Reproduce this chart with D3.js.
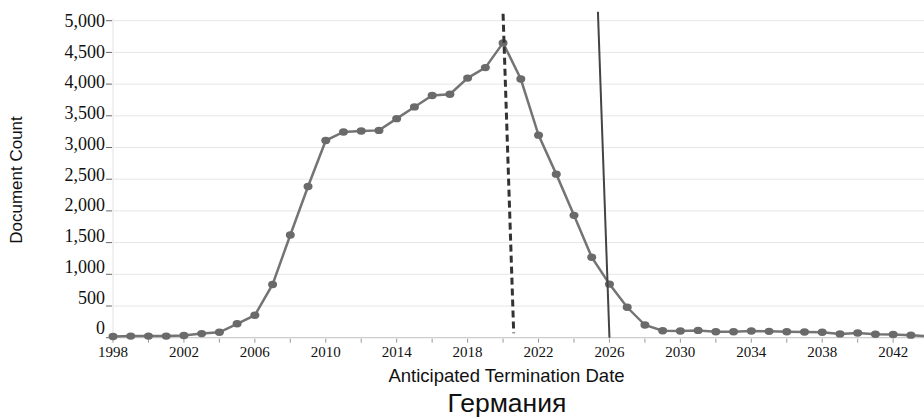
<!DOCTYPE html>
<html><head><meta charset="utf-8">
<script src="https://cdn.jsdelivr.net/npm/d3@7"></script>
<style>body{margin:0;background:#fff;}svg{display:block;}</style>
</head><body>
<svg id="c" width="924" height="419"></svg>
<script>
const years = [1998,1999,2000,2001,2002,2003,2004,2005,2006,2007,2008,2009,2010,2011,2012,2013,2014,2015,2016,2017,2018,2019,2020,2021,2022,2023,2024,2025,2026,2027,2028,2029,2030,2031,2032,2033,2034,2035,2036,2037,2038,2039,2040,2041,2042,2043,2044];
const counts = [20,25,25,25,35,65,85,220,355,840,1620,2385,3110,3245,3260,3270,3455,3640,3820,3840,4095,4260,4650,4080,3195,2580,1930,1270,845,480,200,110,105,115,95,95,105,100,95,90,85,60,75,55,50,40,20];
const yTicks = [0,500,1000,1500,2000,2500,3000,3500,4000,4500,5000];
const xTicks = [1998,2000,2002,2004,2006,2008,2010,2012,2014,2016,2018,2020,2022,2024,2026,2028,2030,2032,2034,2036,2038,2040,2042];
const xLabels = [1998,2002,2006,2010,2014,2018,2022,2026,2030,2034,2038,2042];
const dashedLine = [[2020.0,5110],[2020.6,70]];
const solidLine = [[2025.35,5140],[2026.0,0]];
const title = "Германия";
const xTitle = "Anticipated Termination Date";
const yTitle = "Document Count";

const svg = d3.select("#c");
const x = d3.scaleLinear().domain([1998,2044]).range([113,928.6]);
const y = d3.scaleLinear().domain([0,5000]).range([337.7,20.7]);
const yLab = d3.scaleLinear().domain([0,5000]).range([328,20.7]);

// grid
svg.append("g").selectAll("line").data(yTicks).join("line")
  .attr("x1",113).attr("x2",924).attr("y1",d=>y(d)).attr("y2",d=>y(d))
  .attr("stroke","#e6e6e6").attr("stroke-width",1);
svg.append("line").attr("x1",113).attr("x2",113).attr("y1",y(5000)-2).attr("y2",y(0))
  .attr("stroke","#e2e2e2");

// y ticks
svg.append("g").selectAll("line").data(yTicks).join("line")
  .attr("x1",106).attr("x2",112).attr("y1",d=>y(d)).attr("y2",d=>y(d))
  .attr("stroke","#666").attr("stroke-width",1);
svg.append("g").selectAll("text").data(yTicks).join("text")
  .attr("x",105).attr("y",d=>yLab(d)).attr("dy","0.35em")
  .attr("text-anchor","end").attr("font-family","Liberation Serif, serif")
  .attr("font-size",18).attr("fill","#111").text(d=>d3.format(",")(d));

// x axis
svg.append("line").attr("x1",113).attr("x2",924).attr("y1",y(0)).attr("y2",y(0))
  .attr("stroke","#c8c8c8");
svg.append("g").selectAll("line").data(xTicks).join("line")
  .attr("x1",d=>x(d)).attr("x2",d=>x(d)).attr("y1",y(0)+1).attr("y2",y(0)+5)
  .attr("stroke","#999");
svg.append("g").selectAll("text").data(xLabels).join("text")
  .attr("x",d=>x(d)).attr("y",357).attr("text-anchor","middle")
  .attr("font-family","Liberation Serif, serif").attr("font-size",15).attr("fill","#111")
  .text(d=>d);

// series
const line = d3.line().x((d,i)=>x(years[i])).y(d=>y(d));
svg.append("path").datum(counts).attr("d",line).attr("fill","none")
  .attr("stroke","#747474").attr("stroke-width",2.5);
svg.append("g").selectAll("ellipse").data(counts).join("ellipse")
  .attr("cx",(d,i)=>x(years[i])).attr("cy",d=>y(d)).attr("rx",4.5).attr("ry",3.7)
  .attr("fill","#6a6a6a");

// reference lines
const rl = d3.line().x(d=>x(d[0])).y(d=>y(d[1]));
svg.append("path").attr("d",rl(dashedLine)).attr("stroke","#333").attr("stroke-width",3)
  .attr("stroke-dasharray","7,4").attr("fill","none");
svg.append("path").attr("d",rl(solidLine)).attr("stroke","#444").attr("stroke-width",2)
  .attr("fill","none");

// titles
svg.append("text").attr("x",506.5).attr("y",381.5).attr("text-anchor","middle")
  .attr("font-family","Liberation Sans, Arial, sans-serif").attr("font-size",18.5).attr("fill","#111")
  .text(xTitle);
svg.append("text").attr("transform","translate(22,180) rotate(-90)").attr("text-anchor","middle")
  .attr("font-family","Liberation Sans, Arial, sans-serif").attr("font-size",17).attr("fill","#111")
  .text(yTitle);
svg.append("text").attr("x",507).attr("y",412).attr("text-anchor","middle")
  .attr("font-family","Liberation Sans, Arial, sans-serif").attr("font-size",26.5).attr("fill","#111")
  .text(title);
</script>
</body></html>
